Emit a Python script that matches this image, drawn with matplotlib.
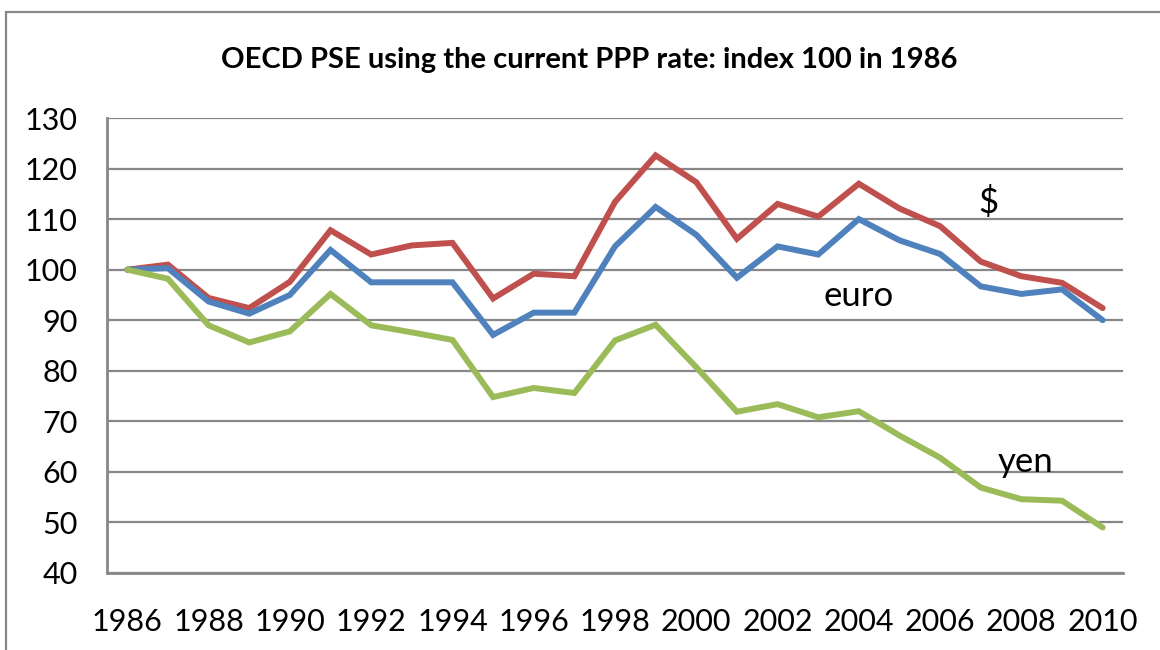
import matplotlib
matplotlib.use("Agg")
import matplotlib.pyplot as plt
from matplotlib.patches import Rectangle

# index values, 1986 = 100
years = list(range(1986, 2011))
dollar = [100.0, 101.0, 94.4, 92.4, 97.6, 107.8, 103.0, 104.8, 105.3, 94.3,
          99.2, 98.7, 113.4, 122.6, 117.3, 106.1, 113.0, 110.5, 117.0, 112.1,
          108.6, 101.6, 98.7, 97.4, 92.4]
euro = [100.0, 100.3, 93.7, 91.3, 95.0, 103.9, 97.5, 97.5, 97.5, 87.1,
        91.5, 91.5, 104.6, 112.4, 106.9, 98.4, 104.6, 103.0, 110.0, 105.8,
        103.1, 96.7, 95.2, 96.1, 90.0]
yen = [100.0, 98.2, 89.0, 85.6, 87.8, 95.2, 89.0, 87.6, 86.1, 74.8,
       76.6, 75.6, 86.0, 89.1, 80.7, 71.9, 73.4, 70.8, 72.0, 67.2,
       62.8, 56.9, 54.6, 54.3, 49.0]
series_labels = ["$", "euro", "yen"]
label_pos = [(2007.2, 113.2), (2004.0, 94.8), (2008.1, 62.0)]
yticks = list(range(40, 131, 10))
xtick_years = years[::2]

plt.rcParams["font.family"] = ["Lato", "DejaVu Sans"]

fig = plt.figure(figsize=(11.6, 6.5), dpi=100)
ax = fig.add_axes([107 / 1160, 1 - 573 / 650, 1016 / 1160, 455 / 650])

colors = ["#C0504D", "#4F81BD", "#9BBB59"]
for vals, c in zip([dollar, euro, yen], colors):
    ax.plot(years, vals, color=c, lw=4.3, solid_capstyle="round",
            solid_joinstyle="miter", zorder=3)

for (x, y), txt in zip(label_pos, series_labels):
    ax.text(x, y, txt, fontsize=25, ha="center", va="center", color="black", zorder=4)

ax.set_xlim(years[0] - 0.5, years[-1] + 0.5)
ax.set_ylim(40, 130)
ax.set_yticks(yticks)
ax.set_xticks(xtick_years)
ax.set_xticklabels([str(y) for y in xtick_years])
ax.tick_params(axis="both", length=0, labelsize=22)
ax.tick_params(axis="y", pad=21)
ax.tick_params(axis="x", pad=25)
ax.grid(axis="y", color="#878787", lw=1.6, zorder=1)
ax.set_axisbelow(True)
for s in ["top", "right"]:
    ax.spines[s].set_visible(False)
for s in ["left", "bottom"]:
    ax.spines[s].set_color("#878787")
    ax.spines[s].set_linewidth(2)

fig.text(589 / 1160, 1 - 60 / 650, "OECD PSE using the current PPP rate: index 100 in 1986",
         fontsize=21, fontweight="bold", ha="center", va="center")

# outer chart frame
fig.patches.append(Rectangle((6 / 1160, -0.1), 1.2, 1 - 12 / 650 + 0.1,
                             transform=fig.transFigure, fill=False,
                             edgecolor="#878787", lw=1.6))

fig.savefig("out.png", dpi=100)
